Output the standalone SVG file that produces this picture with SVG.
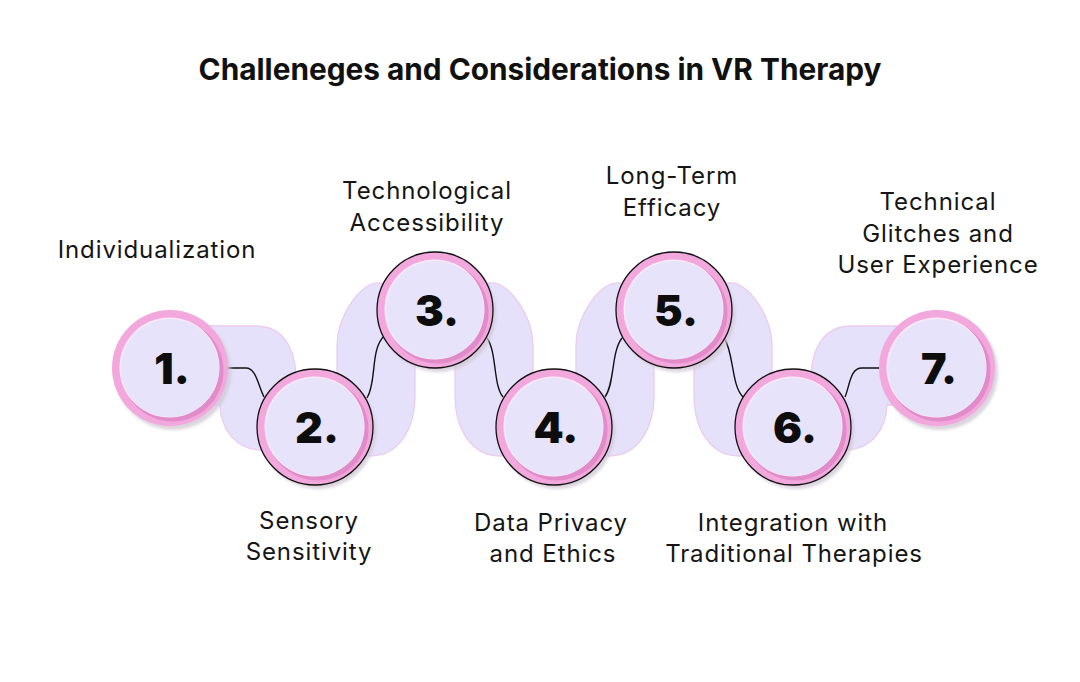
<svg xmlns="http://www.w3.org/2000/svg" width="1080" height="682" viewBox="0 0 1080 682">
<defs>
<filter id="blur" x="-20%" y="-20%" width="140%" height="140%"><feGaussianBlur stdDeviation="1.6"/></filter>
<style>
.title{font-family:Inter,"Liberation Sans",sans-serif;font-weight:700;font-size:29.8px;fill:#111;text-anchor:middle}
.lbl{font-family:Inter,"Liberation Sans",sans-serif;font-weight:400;font-size:24px;fill:#151515;text-anchor:middle;letter-spacing:0.9px}
.num{font-family:Inter,"Liberation Sans",sans-serif;font-weight:900;font-size:43px;fill:#0d0d0d;text-anchor:middle}
.band{fill:#E5E1FA;stroke:#ECCBEF;stroke-width:1.3}
.shadow{fill:#cfc6d2;opacity:0.75;filter:url(#blur)}
.ring{fill:#F2A8DD}
.ringOut{fill:#F2A8DD;stroke:#111;stroke-width:1.3}
.dark{fill:#E28BC9}
.hi{fill:#FBEBF8}
.inner{fill:#E6E3FA}
.conn{fill:none;stroke:#111;stroke-width:1.4}
</style>
<path id="bandSide" d="M170,326 H256 C282,326 296,347 296,380 V410 C296,440 280,450 262,450 C238,450 221,432 220,405 L170,405 Z"/>
<path id="bandMid" d="M455,395 V365 C455,325 465,288 490,283 C510,281 533,318 533,345 V420 C533,445 520,456 500,456 C472,456 455,430 455,395 Z"/>
</defs>
<rect width="1080" height="682" fill="#fff"/>
<text class="title" x="540" y="80">Challeneges and Considerations in VR Therapy</text>

<g id="bands">
<use href="#bandSide" class="band"/>
<use href="#bandMid" class="band" transform="translate(870,0) scale(-1,1)"/>
<use href="#bandMid" class="band"/>
<use href="#bandMid" class="band" transform="translate(1109,0) scale(-1,1)"/>
<use href="#bandMid" class="band" transform="translate(239,0)"/>
<use href="#bandSide" class="band" transform="translate(1107,0) scale(-1,1)"/>
</g>

<g id="connectors">
<path class="conn" d="M228,368 H246 C256,368 258,385 264,397"/>
<path class="conn" d="M367,398 C377,382 370,350 384,336"/>
<path class="conn" d="M487,338 C497,352 493,385 503,397"/>
<path class="conn" d="M605,397 C615,383 611,352 622,338"/>
<path class="conn" d="M724,338 C734,352 731,385 743,397"/>
<path class="conn" d="M845,397 C850,385 850,368 862,368 H880"/>
</g>

<g id="node1">
<circle class="shadow" cx="173" cy="372" r="58"/>
<circle class="ring" cx="170" cy="368" r="58"/>
<circle class="dark" cx="172.5" cy="370.5" r="51"/>
<circle class="hi" cx="169.5" cy="367.5" r="50"/>
<circle class="inner" cx="170" cy="368" r="49"/>
<text class="num" x="172" y="384">1.</text>
</g>
<g id="node2">
<circle class="shadow" cx="318" cy="431" r="58"/>
<circle class="ringOut" cx="315" cy="427" r="58"/>
<circle class="dark" cx="317.5" cy="429.5" r="51"/>
<circle class="hi" cx="314.5" cy="426.5" r="50"/>
<circle class="inner" cx="315" cy="427" r="49"/>
<text class="num" x="317" y="443">2.</text>
</g>
<g id="node3">
<circle class="shadow" cx="438" cy="314" r="58"/>
<circle class="ringOut" cx="435" cy="310" r="58"/>
<circle class="dark" cx="437.5" cy="312.5" r="51"/>
<circle class="hi" cx="434.5" cy="309.5" r="50"/>
<circle class="inner" cx="435" cy="310" r="49"/>
<text class="num" x="437" y="326">3.</text>
</g>
<g id="node4">
<circle class="shadow" cx="557" cy="431" r="58"/>
<circle class="ringOut" cx="554" cy="427" r="58"/>
<circle class="dark" cx="556.5" cy="429.5" r="51"/>
<circle class="hi" cx="553.5" cy="426.5" r="50"/>
<circle class="inner" cx="554" cy="427" r="49"/>
<text class="num" x="556" y="443">4.</text>
</g>
<g id="node5">
<circle class="shadow" cx="677" cy="314" r="58"/>
<circle class="ringOut" cx="674" cy="310" r="58"/>
<circle class="dark" cx="676.5" cy="312.5" r="51"/>
<circle class="hi" cx="673.5" cy="309.5" r="50"/>
<circle class="inner" cx="674" cy="310" r="49"/>
<text class="num" x="676" y="326">5.</text>
</g>
<g id="node6">
<circle class="shadow" cx="796" cy="431" r="58"/>
<circle class="ringOut" cx="793" cy="427" r="58"/>
<circle class="dark" cx="795.5" cy="429.5" r="51"/>
<circle class="hi" cx="792.5" cy="426.5" r="50"/>
<circle class="inner" cx="793" cy="427" r="49"/>
<text class="num" x="795" y="443">6.</text>
</g>
<g id="node7">
<circle class="shadow" cx="940" cy="372" r="58"/>
<circle class="ring" cx="937" cy="368" r="58"/>
<circle class="dark" cx="939.5" cy="370.5" r="51"/>
<circle class="hi" cx="936.5" cy="367.5" r="50"/>
<circle class="inner" cx="937" cy="368" r="49"/>
<text class="num" x="939" y="384">7.</text>
</g>

<g id="labels">
<text class="lbl" x="157" y="258">Individualization</text>
<text class="lbl" x="427" y="199">Technological</text>
<text class="lbl" x="427" y="231">Accessibility</text>
<text class="lbl" x="672" y="184">Long-Term</text>
<text class="lbl" x="672" y="216">Efficacy</text>
<text class="lbl" x="938" y="210">Technical</text>
<text class="lbl" x="938" y="242">Glitches and</text>
<text class="lbl" x="938" y="273">User Experience</text>
<text class="lbl" x="309" y="529">Sensory</text>
<text class="lbl" x="309" y="560">Sensitivity</text>
<text class="lbl" x="551" y="531">Data Privacy</text>
<text class="lbl" x="553" y="562">and Ethics</text>
<text class="lbl" x="793" y="531">Integration with</text>
<text class="lbl" x="794" y="562">Traditional Therapies</text>
</g>
</svg>
